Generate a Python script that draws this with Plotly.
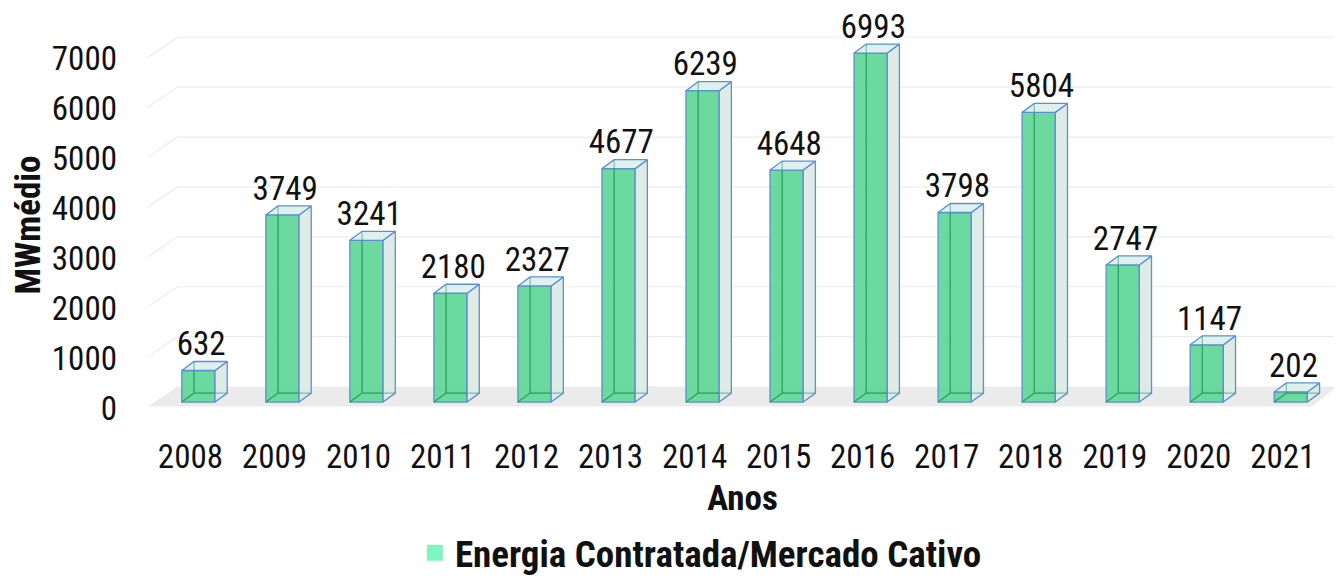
import plotly.graph_objects as go

years = ["2008", "2009", "2010", "2011", "2012", "2013", "2014",
         "2015", "2016", "2017", "2018", "2019", "2020", "2021"]
values = [632, 3749, 3241, 2180, 2327, 4677, 6239,
          4648, 6993, 3798, 5804, 2747, 1147, 202]
y_ticks = [0, 1000, 2000, 3000, 4000, 5000, 6000, 7000]
series_name = "Energia Contratada/Mercado Cativo"

FONT = "Liberation Sans Narrow, Arial Narrow, Roboto Condensed, Arial, sans-serif"
FRONT = "rgba(95,214,150,0.92)"
EDGE = "#5a90d4"
SIDE = "rgba(220,234,230,0.95)"
TOP = "rgba(222,240,236,0.95)"

# geometry (data units)
W = 0.395         # bar width
DX = 0.145        # depth offset x
DY = 180          # depth offset y
XR = [-0.6, 13.55]
YR = [-340, 7435]

xs = list(range(len(years)))
fig = go.Figure()

# floor and back gridlines (decoration derived from axis ticks)
shapes = []
shapes.append(dict(type="path", xref="x", yref="y",
                   path=f"M {XR[0]},-90 L {XR[0]+0.35},310 L {XR[1]},310 L {XR[1]-0.3},-90 Z",
                   fillcolor="#ebebeb", line=dict(width=0), layer="below"))
for v in y_ticks[1:]:
    shapes.append(dict(type="line", xref="x", yref="y", x0=XR[0], y0=v - 90,
                       x1=XR[0] + 0.35, y1=v + 310, line=dict(color="#ececec", width=1.2), layer="below"))
    shapes.append(dict(type="line", xref="x", yref="y", x0=XR[0] + 0.35, y0=v + 310,
                       x1=XR[1], y1=v + 310, line=dict(color="#ececec", width=1.2), layer="below"))

# side faces and top faces computed from values
sx, sy, tx, ty, bx, by = [], [], [], [], [], []
for x, v in zip(xs, values):
    l, r = x - W / 2, x + W / 2
    sx += [r, r + DX, r + DX, r, r, None]
    sy += [0, DY, v + DY, v, 0, None]
    tx += [l, l + DX, r + DX, r, l, None]
    ty += [v, v + DY, v + DY, v, v, None]
    # hidden back edges seen through the front face
    bx += [l, l + DX, l + DX, None, l + DX, r + DX, None]
    by += [0, DY, v + DY, None, DY, DY, None]

fig.add_trace(go.Scatter(x=bx, y=by, mode="lines", line=dict(color="#3aa870", width=1.3),
                         showlegend=False, hoverinfo="skip"))
fig.add_trace(go.Scatter(x=sx, y=sy, mode="lines", fill="toself", fillcolor=SIDE,
                         line=dict(color=EDGE, width=1.3), showlegend=False, hoverinfo="skip"))
fig.add_trace(go.Scatter(x=tx, y=ty, mode="lines", fill="toself", fillcolor=TOP,
                         line=dict(color=EDGE, width=1.3), showlegend=False, hoverinfo="skip"))
fig.add_trace(go.Bar(x=xs, y=values, width=W, marker=dict(color=FRONT, line=dict(color=EDGE, width=1.3)),
                     showlegend=False, hoverinfo="skip"))
# back edge lines on top, faintly
fig.add_trace(go.Scatter(x=bx, y=by, mode="lines", line=dict(color="rgba(50,160,105,0.55)", width=1.2),
                         showlegend=False, hoverinfo="skip"))
# data labels
fig.add_trace(go.Scatter(x=[x + DX / 2 - 0.04 for x in xs], y=[v + DY - 40 for v in values],
                         mode="text", text=[str(v) for v in values], textposition="top center",
                         textfont=dict(family=FONT, size=33, color="#111111"), cliponaxis=False,
                         showlegend=False, hoverinfo="skip"))
# legend entry
fig.add_trace(go.Scatter(x=[None], y=[None], mode="markers", name=series_name,
                         marker=dict(symbol="square", size=16, color="#80f5c2",
                                     line=dict(color="#80f5c2", width=0))))

# page body has an 8px margin, so the figure is 8px smaller and margins compensate
fig.update_layout(
    width=1334, height=569,
    margin=dict(l=140, r=5, t=23, b=158, autoexpand=False),
    paper_bgcolor="white", plot_bgcolor="white",
    shapes=shapes,
    showlegend=True,
    legend=dict(orientation="h", x=0.465, xanchor="center", y=-0.266, yanchor="top",
                font=dict(family=FONT, size=37, color="#111111", weight="bold"),
                itemsizing="trace", itemwidth=30),
    font=dict(family=FONT, color="#111111"),
)
fig.update_xaxes(range=XR, tickmode="array", tickvals=xs, ticktext=years, automargin=False,
                 showgrid=False, zeroline=False, showline=False, ticks="",
                 tickfont=dict(family=FONT, size=33, color="#111111"),
                 ticklabelstandoff=15, ticklabelshift=-8,
                 title=dict(text="Anos", font=dict(family=FONT, size=35, color="#111111", weight="bold"),
                            standoff=10))
fig.update_yaxes(range=YR, tickmode="array", tickvals=y_ticks, automargin=False,
                 showgrid=False, zeroline=False, showline=False, ticks="",
                 tickfont=dict(family=FONT, size=33, color="#111111"),
                 ticklabelstandoff=30, ticklabelshift=6,
                 title=dict(text="MWmédio", font=dict(family=FONT, size=35, color="#111111", weight="bold"),
                            standoff=8))

fig.write_html("out.html")
